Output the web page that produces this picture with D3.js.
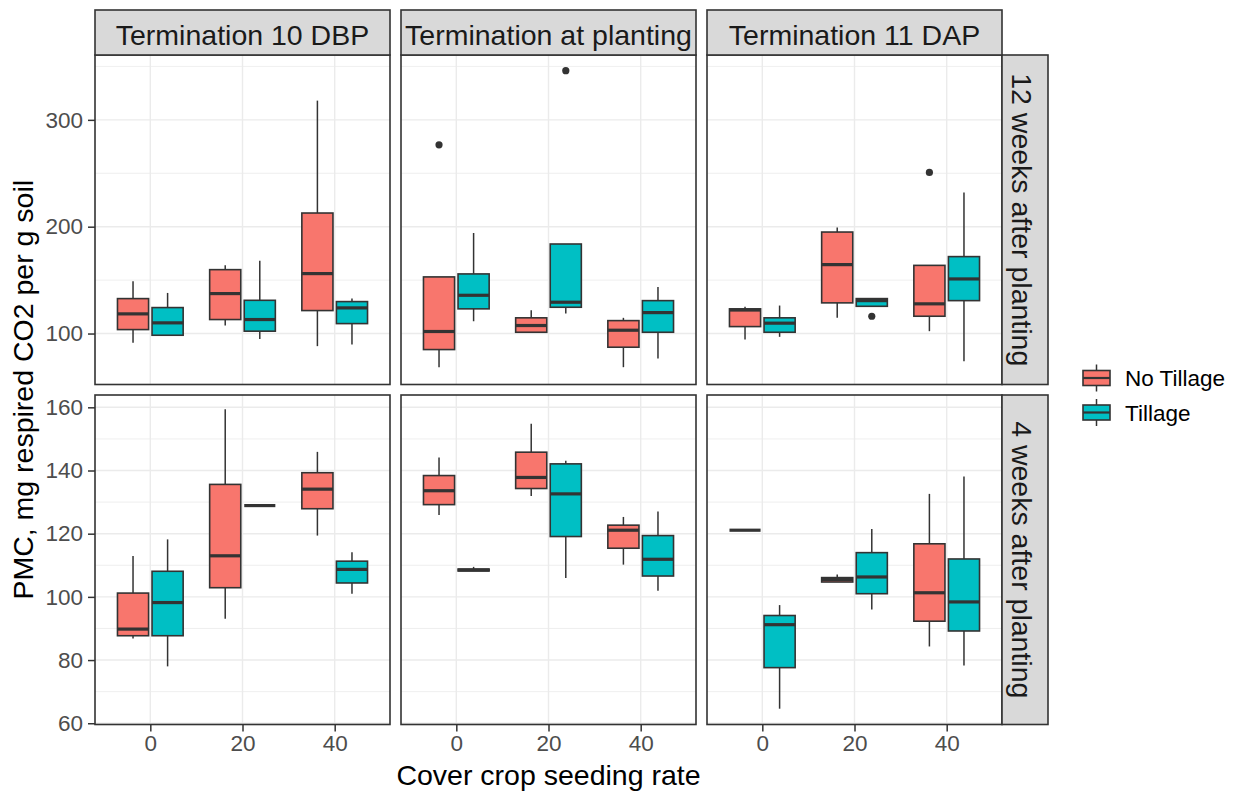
<!DOCTYPE html>
<html>
<head>
<meta charset="utf-8">
<script src="https://cdn.jsdelivr.net/npm/d3@7"></script>
<style>
  html, body { margin: 0; padding: 0; background: #ffffff; }
  svg { display: block; font-family: "Liberation Sans", Arial, sans-serif; }
</style>
</head>
<body>
<svg id="chart" width="1238" height="794"></svg>
<script>
// ---- facets, groups and ticks ----
const terminations = ["Termination 10 DBP", "Termination at planting", "Termination 11 DAP"];
const samplings = ["12 weeks after planting", "4 weeks after planting"];
const seedingRates = [0, 20, 40];
const tillageLevels = ["No Tillage", "Tillage"];
const tillageColors = ["#F8766D", "#00BFC4"];

const yTicksTop = [100, 200, 300];
const yTicksBottom = [60, 80, 100, 120, 140, 160];
const yDomainTop = [52.3, 360.7];
const yDomainBottom = [59.6, 163.9];

// Five-number summaries [lower whisker, Q1, median, Q3, upper whisker]
// order: rate 0 (No Tillage, Tillage), rate 20 (...), rate 40 (...)
const wk12_dbp10 = [
  [91.3, 103.7, 118.4, 132.7, 148.9], [98.4, 98.4, 110.0, 124.3, 138.0],
  [107.5, 113.1, 137.4, 159.8, 163.8], [95.0, 102.2, 113.1, 131.1, 168.2],
  [88.2, 121.5, 156.1, 212.8, 318.0], [89.7, 109.3, 124.0, 129.9, 132.7]
];
const wk12_planting = [
  [68.5, 85.0, 101.9, 153.0, 153.0], [111.5, 123.1, 135.8, 155.8, 194.1],
  [101.2, 101.2, 107.5, 114.7, 121.8], [118.7, 124.6, 129.3, 183.8, 183.8],
  [68.5, 87.2, 103.1, 112.1, 114.7], [76.6, 101.2, 119.6, 130.8, 143.6]
];
const wk12_dap11 = [
  [94.4, 106.5, 122.0, 123.1, 125.0], [96.9, 101.2, 109.7, 114.7, 126.2],
  [114.7, 128.7, 164.5, 195.0, 199.3], [125.5, 125.5, 130.8, 132.7, 132.7],
  [102.2, 116.2, 127.8, 163.8, 163.8], [74.1, 130.8, 151.1, 172.0, 232.0]
];
const wk4_dbp10 = [
  [86.8, 87.7, 89.8, 101.2, 112.9], [78.0, 87.7, 98.2, 108.1, 118.2],
  [93.1, 102.9, 113.0, 135.6, 159.4], [128.9, 128.9, 128.9, 128.9, 128.9],
  [119.4, 127.9, 134.1, 139.3, 145.9], [101.0, 104.4, 108.7, 111.3, 114.1]
];
const wk4_planting = [
  [125.9, 129.2, 133.6, 138.4, 144.1], [108.2, 108.2, 108.5, 108.8, 109.5],
  [131.9, 134.3, 137.8, 145.8, 154.8], [106.0, 119.1, 132.6, 142.1, 143.1],
  [110.2, 115.4, 121.1, 122.7, 125.3], [101.9, 106.6, 111.9, 119.4, 127.0]
];
const wk4_dap11 = [
  [121.1, 121.1, 121.1, 121.1, 121.1], [64.6, 77.6, 91.2, 94.1, 97.4],
  [104.7, 104.7, 105.5, 106.1, 107.1], [96.0, 101.0, 106.3, 114.0, 121.5],
  [84.3, 92.3, 101.3, 116.8, 132.6], [78.3, 89.2, 98.4, 112.0, 138.1]
];

// outlying observations: [sampling, termination, rate, tillage, value]
const outliers = [
  ["12 weeks after planting", "Termination at planting", 0, "No Tillage", 276.6],
  ["12 weeks after planting", "Termination at planting", 20, "Tillage", 346.0],
  ["12 weeks after planting", "Termination 11 DAP", 20, "Tillage", 116.2],
  ["12 weeks after planting", "Termination 11 DAP", 40, "No Tillage", 250.8]
];

// ---- layout ----
const svg = d3.select("#chart");
const colLeft = [95, 401, 707];
const panelW = 295;
const rowTop = [55, 395];
const panelH = 329.5;
const stripTop = 10, stripH = 45, stripW = 46;
const dark = "#333333";
const tickFont = 22.5;

const panelStats = [
  [wk12_dbp10, wk12_planting, wk12_dap11],
  [wk4_dbp10, wk4_planting, wk4_dap11]
];
const yTicks = [yTicksTop, yTicksBottom];
const yDomains = [yDomainTop, yDomainBottom];

const x = d3.scalePoint().domain(seedingRates).range([0, panelW]).padding(0.6);
const step = x.step();
const dodge = step * 0.1875;
const boxW = step * 0.3375;

const yScales = yDomains.map((dom, r) =>
  d3.scaleLinear().domain(dom).range([rowTop[r] + panelH, rowTop[r]]));

function minorBreaks(ticks, dom) {
  const gap = ticks[1] - ticks[0];
  const out = [];
  for (let v = ticks[0] - gap / 2; v <= dom[1]; v += gap) {
    if (v >= dom[0]) out.push(v);
  }
  return out;
}

samplings.forEach((samp, r) => {
  const y = yScales[r];
  terminations.forEach((term, c) => {
    const g = svg.append("g").attr("transform", `translate(${colLeft[c]},0)`);
    // background
    g.append("rect").attr("x", 0).attr("y", rowTop[r]).attr("width", panelW).attr("height", panelH)
      .attr("fill", "#ffffff");
    // grid
    g.selectAll(".minor").data(minorBreaks(yTicks[r], yDomains[r])).join("line")
      .attr("x1", 0).attr("x2", panelW).attr("y1", d => y(d)).attr("y2", d => y(d))
      .attr("stroke", "#EBEBEB").attr("stroke-width", 0.8);
    g.selectAll(".major").data(yTicks[r]).join("line")
      .attr("x1", 0).attr("x2", panelW).attr("y1", d => y(d)).attr("y2", d => y(d))
      .attr("stroke", "#EBEBEB").attr("stroke-width", 1.4);
    g.selectAll(".vmajor").data(seedingRates).join("line")
      .attr("x1", d => x(d)).attr("x2", d => x(d)).attr("y1", rowTop[r]).attr("y2", rowTop[r] + panelH)
      .attr("stroke", "#EBEBEB").attr("stroke-width", 1.4);

    // boxes
    const stats = panelStats[r][c];
    stats.forEach((s, i) => {
      const rate = seedingRates[Math.floor(i / 2)];
      const t = i % 2;
      const cx = x(rate) + (t === 0 ? -dodge : dodge);
      const [lo, q1, med, q3, hi] = s;
      const b = g.append("g");
      b.append("line").attr("x1", cx).attr("x2", cx).attr("y1", y(hi)).attr("y2", y(q3))
        .attr("stroke", dark).attr("stroke-width", 1.5);
      b.append("line").attr("x1", cx).attr("x2", cx).attr("y1", y(q1)).attr("y2", y(lo))
        .attr("stroke", dark).attr("stroke-width", 1.5);
      b.append("rect").attr("x", cx - boxW / 2).attr("y", y(q3))
        .attr("width", boxW).attr("height", Math.max(0, y(q1) - y(q3)))
        .attr("fill", tillageColors[t]).attr("stroke", dark).attr("stroke-width", 1.6);
      b.append("line").attr("x1", cx - boxW / 2).attr("x2", cx + boxW / 2)
        .attr("y1", y(med)).attr("y2", y(med))
        .attr("stroke", dark).attr("stroke-width", 3.2);
    });

    // outliers
    outliers.filter(o => o[0] === samp && o[1] === term).forEach(o => {
      const t = tillageLevels.indexOf(o[3]);
      g.append("circle")
        .attr("cx", x(o[2]) + (t === 0 ? -dodge : dodge)).attr("cy", y(o[4])).attr("r", 3.6)
        .attr("fill", dark);
    });

    // border
    g.append("rect").attr("x", 0).attr("y", rowTop[r]).attr("width", panelW).attr("height", panelH)
      .attr("fill", "none").attr("stroke", dark).attr("stroke-width", 1.6);

    // bottom axis
    if (r === samplings.length - 1) {
      const ax = g.append("g").attr("transform", `translate(0,${rowTop[r] + panelH})`)
        .call(d3.axisBottom(x).tickValues(seedingRates).tickSize(7).tickPadding(4));
      ax.select(".domain").remove();
      ax.selectAll(".tick line").attr("stroke", dark).attr("stroke-width", 1.5);
      ax.selectAll(".tick text").attr("fill", "#4D4D4D").attr("font-size", tickFont)
        .attr("font-family", "Liberation Sans, Arial, sans-serif");
    }
    // left axis
    if (c === 0) {
      const ay = g.append("g")
        .call(d3.axisLeft(y).tickValues(yTicks[r]).tickSize(7).tickPadding(5).tickFormat(d3.format("d")));
      ay.select(".domain").remove();
      ay.selectAll(".tick line").attr("stroke", dark).attr("stroke-width", 1.5);
      ay.selectAll(".tick text").attr("fill", "#4D4D4D").attr("font-size", tickFont)
        .attr("font-family", "Liberation Sans, Arial, sans-serif");
    }
  });

  // right strip
  const sy = rowTop[r];
  svg.append("rect").attr("x", colLeft[2] + panelW).attr("y", sy).attr("width", stripW).attr("height", panelH)
    .attr("fill", "#D9D9D9").attr("stroke", dark).attr("stroke-width", 1.6);
  svg.append("text")
    .attr("transform", `translate(${colLeft[2] + panelW + 10},${sy + panelH / 2}) rotate(90)`)
    .attr("text-anchor", "middle").attr("font-size", 28.5).attr("fill", "#1A1A1A")
    .text(samp);
});

// top strips
terminations.forEach((term, c) => {
  svg.append("rect").attr("x", colLeft[c]).attr("y", stripTop).attr("width", panelW).attr("height", stripH)
    .attr("fill", "#D9D9D9").attr("stroke", dark).attr("stroke-width", 1.6);
  svg.append("text").attr("x", colLeft[c] + panelW / 2).attr("y", stripTop + 35)
    .attr("text-anchor", "middle").attr("font-size", 28.5).attr("fill", "#1A1A1A")
    .text(term);
});

// axis titles
svg.append("text").attr("x", (colLeft[0] + colLeft[2] + panelW) / 2).attr("y", 785)
  .attr("text-anchor", "middle").attr("font-size", 28.5).attr("fill", "#000")
  .text("Cover crop seeding rate");
svg.append("text")
  .attr("transform", `translate(33,${(rowTop[0] + rowTop[1] + panelH) / 2}) rotate(-90)`)
  .attr("text-anchor", "middle").attr("font-size", 28.5).attr("fill", "#000")
  .text("PMC, mg respired CO2 per g soil");

// legend
const legendX = 1083, keyW = 27, legendY0 = 378, legendGap = 34.5;
tillageLevels.forEach((lvl, i) => {
  const cy = legendY0 + i * legendGap;
  const cx = legendX + keyW / 2;
  const lg = svg.append("g");
  lg.append("line").attr("x1", cx).attr("x2", cx).attr("y1", cy - 13.5).attr("y2", cy + 13.5)
    .attr("stroke", dark).attr("stroke-width", 1.5);
  lg.append("rect").attr("x", legendX).attr("y", cy - 7.5).attr("width", keyW).attr("height", 15)
    .attr("fill", tillageColors[i]).attr("stroke", dark).attr("stroke-width", 1.6);
  lg.append("line").attr("x1", legendX).attr("x2", legendX + keyW).attr("y1", cy).attr("y2", cy)
    .attr("stroke", dark).attr("stroke-width", 2.2);
  lg.append("text").attr("x", legendX + keyW + 15).attr("y", cy).attr("dy", "0.36em")
    .attr("font-size", 22.5).attr("fill", "#000").text(lvl);
});
</script>
</body>
</html>
